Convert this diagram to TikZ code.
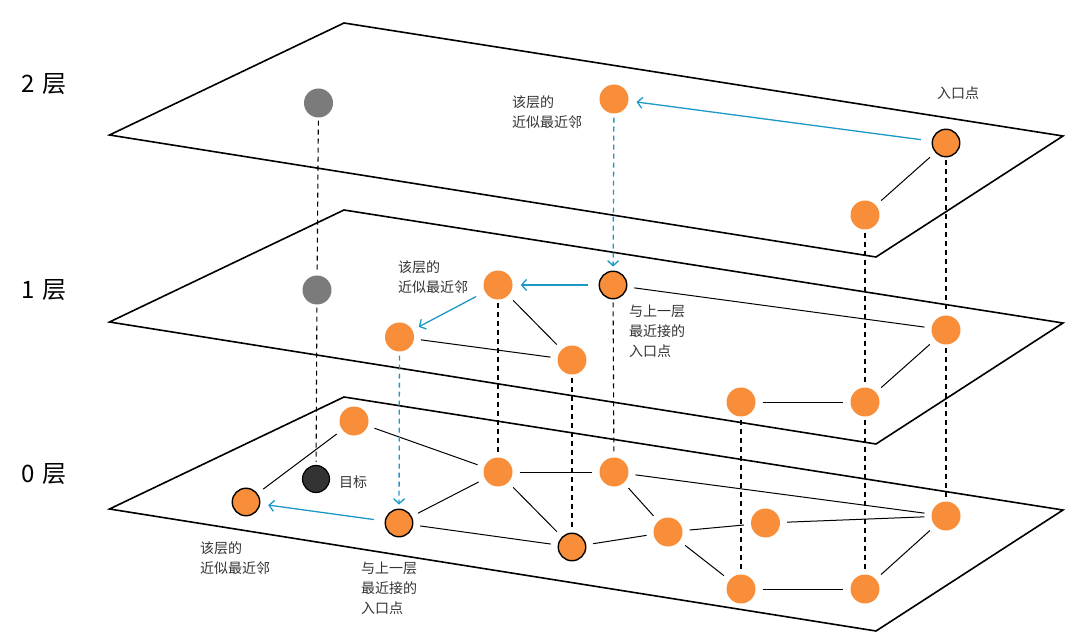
\documentclass[tikz,border=0pt]{standalone}
\usepackage{fontspec}
\setmainfont{Noto Sans CJK SC}
\usetikzlibrary{arrows.meta}
\definecolor{ptorange}{HTML}{F98E3A}
\definecolor{hopblue}{HTML}{1A98C6}
\definecolor{ptgray}{HTML}{7B7B7B}
\definecolor{txtgray}{HTML}{333333}

\begin{document}
\begin{tikzpicture}[x=1pt, y=-1pt,
    pt/.style={circle, fill=ptorange, minimum size=29pt, inner sep=0pt},
    entry/.style={pt, draw=black, line width=1.4pt, minimum size=27.5pt},
    ghost/.style={circle, fill=ptgray, minimum size=29pt, inner sep=0pt},
    edge/.style={line width=1pt, shorten <=7pt, shorten >=7pt},
    vline/.style={line width=1.1pt, dash pattern=on 5pt off 4pt, shorten <=3pt, shorten >=3pt},
    hop/.style={hopblue, line width=1.3pt, -{Straight Barb[length=5pt,width=11pt]}, shorten <=11pt, shorten >=8pt},
    hopdown/.style={hop, dash pattern=on 5pt off 4pt, shorten <=4pt, shorten >=4pt},
    lbl/.style={text=txtgray, font=\fontsize{14}{20}\selectfont, align=left, inner sep=0pt},
    layer/.style={text=black, font=\fontsize{24}{28}\selectfont, inner sep=0pt}]
    \useasboundingbox (0,0) rectangle (1080,639);

    % planes
    \foreach \d in {0,187,374} {
        \draw[line width=1.6pt, line join=miter] (344,23+\d) -- (1063,136+\d) -- (876,257+\d) -- (109.5,135+\d) -- cycle;
    }
    \node[layer] (l2) at (44,84) {2\hspace{7pt}层};
    \node[layer] (l1) at (44,290) {1\hspace{7pt}层};
    \node[layer] (l0) at (44,474) {0\hspace{7pt}层};

    % layer 2
    \node[ghost] (g2) at (318.5,103) {};
    \node[pt] (n2a) at (614,99) {};
    \node[entry] (e2) at (946,143) {};
    \node[pt] (n2b) at (865,215) {};

    % layer 1
    \node[ghost] (g1) at (317,290) {};
    \node[pt] (n1a) at (498,285) {};
    \node[entry] (e1) at (613,285) {};
    \node[pt] (n1b) at (399.5,337) {};
    \node[pt] (n1c) at (572,360) {};
    \node[pt] (n1d) at (946,330) {};
    \node[pt] (n1e) at (741,402) {};
    \node[pt] (n1f) at (865,402) {};

    % layer 0
    \node[circle, fill=txtgray, draw=black, line width=1.2pt, minimum size=27pt, inner sep=0pt] (tgt) at (316,479) {};
    \node[pt] (n0a) at (354,421) {};
    \node[entry] (n0nn) at (246,502) {};
    \node[entry] (n0e) at (399,523) {};
    \node[pt] (n0b) at (498,472) {};
    \node[pt] (n0c) at (614,472) {};
    \node[entry] (n0d) at (572,547) {};
    \node[pt] (n0f) at (668,532) {};
    \node[pt] (n0g) at (765.5,523) {};
    \node[pt] (n0h) at (946,516) {};
    \node[pt] (n0i) at (741,589) {};
    \node[pt] (n0j) at (865,589) {};

    % graph edges
    \draw[edge] (e2) -- (n2b);
    \draw[edge] (e1) -- (n1d);
    \draw[edge] (n1a) -- (n1c);
    \draw[edge] (n1b) -- (n1c);
    \draw[edge] (n1e) -- (n1f);
    \draw[edge] (n1f) -- (n1d);
    \draw[edge] (n0nn) -- (n0a);
    \draw[edge] (n0a) -- (n0b);
    \draw[edge] (n0b) -- (n0e);
    \draw[edge] (n0b) -- (n0c);
    \draw[edge] (n0b) -- (n0d);
    \draw[edge] (n0e) -- (n0d);
    \draw[edge] (n0d) -- (n0f);
    \draw[edge] (n0c) -- (n0f);
    \draw[edge] (n0c) -- (n0h);
    \draw[edge] (n0f) -- (n0g);
    \draw[edge] (n0g) -- (n0h);
    \draw[edge] (n0f) -- (n0i);
    \draw[edge] (n0i) -- (n0j);
    \draw[edge] (n0j) -- (n0h);

    % same point across layers
    \draw[vline] (g2) -- (g1);
    \draw[vline] (g1) -- (tgt);
    \draw[vline] (n1a) -- (n0b);
    \draw[vline] (e1) -- (n0c);
    \draw[vline] (e2) -- (n1d);
    \draw[vline] (n1d) -- (n0h);
    \draw[vline] (n2b) -- (n1f);
    \draw[vline] (n1f) -- (n0j);
    \draw[vline] (n1e) -- (n0i);
    \draw[vline] (n1c) -- (n0d);

    % search path
    \draw[hop] (e2) -- (n2a);
    \draw[hopdown] (n2a) -- (e1);
    \draw[hop] (e1) -- (n1a);
    \draw[hop, shorten <=10pt, shorten >=7pt] (n1a) -- (n1b);
    \draw[hopdown] (n1b) -- (n0e);
    \draw[hop] (n0e) -- (n0nn);

    % labels
    \node[lbl, anchor=west] (t2a) at (512,112.5) {该层的\\近似最近邻};
    \node[lbl, anchor=west] (t2e) at (937,93) {入口点};
    \node[lbl, anchor=west] (t1a) at (398,277.5) {该层的\\近似最近邻};
    \node[lbl, anchor=west] (t1e) at (629,331.5) {与上一层\\最近接的\\入口点};
    \node[lbl, anchor=west] (ttg) at (339,482) {目标};
    \node[lbl, anchor=west] (t0a) at (200,558) {该层的\\近似最近邻};
    \node[lbl, anchor=west] (t0e) at (361,588) {与上一层\\最近接的\\入口点};
\end{tikzpicture}
\end{document}
